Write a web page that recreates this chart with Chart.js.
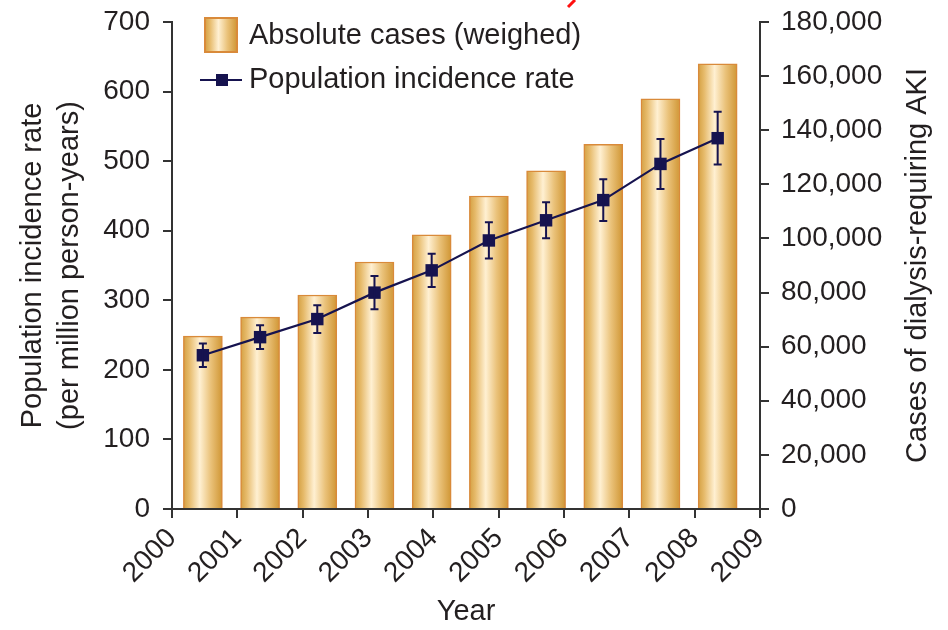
<!DOCTYPE html>
<html lang="en">
<head>
<meta charset="utf-8">
<title>Dialysis-requiring AKI</title>
<script src="https://cdn.jsdelivr.net/npm/chart.js@4.4.1/dist/chart.umd.min.js"></script>
<style>
  html, body { margin: 0; padding: 0; background: #fff; }
  #wrap { width: 948px; height: 630px; position: relative; }
</style>
</head>
<body>
<div id="wrap"><canvas id="chart"></canvas></div>
<script>
  // data
  const years = [2000, 2001, 2002, 2003, 2004, 2005, 2006, 2007, 2008, 2009];
  const cases = [63900, 70900, 79100, 91300, 101300, 115700, 125000, 134800, 151600, 164500];
  const rate = [221, 247, 273, 311, 343, 386, 415, 444, 496, 533];
  const rateErr = [17, 17, 20, 24, 24, 26, 26, 30, 36, 38];

  const ink = '#231f20';
  const navy = '#16134f';
  const barEdge = '#d98a3a';
  const fontFamily = '"Liberation Sans", Arial, Helvetica, sans-serif';

  Chart.defaults.font.family = fontFamily;
  Chart.defaults.font.size = 28;
  Chart.defaults.color = ink;

  // cylinder-like fill of the bars
  function goldGradient(ctx, x0, x1) {
    const g = ctx.createLinearGradient(x0, 0, x1, 0);
    g.addColorStop(0, '#d4a042');
    g.addColorStop(0.15, '#e6ba6a');
    g.addColorStop(0.42, '#fff0d2');
    g.addColorStop(0.7, '#eac27a');
    g.addColorStop(1, '#d09634');
    return g;
  }

  // give every bar its own gradient once the elements know where they are
  const barShading = {
    id: 'barShading',
    beforeDatasetsDraw(chart) {
      const meta = chart.getDatasetMeta(0);
      meta.data.forEach((bar) => {
        const half = bar.width / 2;
        if (!isFinite(bar.x) || !isFinite(half)) return;
        bar.options = Object.assign({}, bar.options, {
          backgroundColor: goldGradient(chart.ctx, bar.x - half, bar.x + half)
        });
      });
    }
  };

  // error bars on the incidence rate
  const errorBars = {
    id: 'errorBars',
    afterDatasetsDraw(chart) {
      const meta = chart.getDatasetMeta(1);
      const y = chart.scales.yl;
      const ctx = chart.ctx;
      ctx.save();
      ctx.strokeStyle = navy;
      ctx.lineWidth = 2;
      meta.data.forEach((pt, i) => {
        const top = y.getPixelForValue(rate[i] + rateErr[i]);
        const bot = y.getPixelForValue(rate[i] - rateErr[i]);
        ctx.beginPath();
        ctx.moveTo(pt.x, top); ctx.lineTo(pt.x, bot);
        ctx.moveTo(pt.x - 4, top); ctx.lineTo(pt.x + 4, top);
        ctx.moveTo(pt.x - 4, bot); ctx.lineTo(pt.x + 4, bot);
        ctx.stroke();
      });
      ctx.restore();
    }
  };

  // legend, right axis title and the stray red mark at the top
  const extras = {
    id: 'extras',
    afterDraw(chart) {
      const ctx = chart.ctx;
      const area = chart.chartArea;
      ctx.save();
      ctx.font = '29px ' + fontFamily;
      ctx.textBaseline = 'middle';

      // legend: bar swatch
      ctx.fillStyle = goldGradient(ctx, 205, 237);
      ctx.fillRect(205, 18, 32, 34);
      ctx.strokeStyle = barEdge;
      ctx.lineWidth = 2;
      ctx.strokeRect(205, 18, 32, 34);
      ctx.fillStyle = ink;
      ctx.fillText('Absolute cases (weighed)', 249, 36);

      // legend: line swatch
      ctx.strokeStyle = navy;
      ctx.lineWidth = 2;
      ctx.beginPath();
      ctx.moveTo(200, 80); ctx.lineTo(242, 80);
      ctx.stroke();
      ctx.fillStyle = navy;
      ctx.fillRect(216, 74, 12, 12);
      ctx.fillStyle = ink;
      ctx.fillText('Population incidence rate', 249, 80);

      // right axis title, reading bottom to top
      ctx.translate(918, (area.top + area.bottom) / 2);
      ctx.rotate(-Math.PI / 2);
      ctx.textAlign = 'center';
      ctx.fillText('Cases of dialysis-requiring AKI', 0, 0);
      ctx.restore();

      ctx.save();
      ctx.strokeStyle = '#ff1010';
      ctx.lineWidth = 3;
      ctx.beginPath();
      ctx.moveTo(575, 0); ctx.lineTo(568, 7);
      ctx.stroke();
      ctx.restore();
    }
  };

  new Chart(document.getElementById('chart'), {
    type: 'bar',
    data: {
      datasets: [
        {
          type: 'bar',
          label: 'Absolute cases (weighed)',
          data: years.map((yr, i) => ({ x: yr, y: cases[i] })),
          xAxisID: 'xb',
          yAxisID: 'yr',
          order: 2,
          barThickness: 39,
          borderWidth: 1.5,
          borderColor: barEdge,
          backgroundColor: '#e6b45c'
        },
        {
          type: 'line',
          label: 'Population incidence rate',
          data: years.map((yr, i) => ({ x: yr, y: rate[i] })),
          xAxisID: 'xb',
          yAxisID: 'yl',
          order: 1,
          borderColor: navy,
          borderWidth: 2.2,
          pointStyle: 'rect',
          pointRadius: 8.8,
          pointBackgroundColor: navy,
          pointBorderColor: navy,
          pointBorderWidth: 0,
          tension: 0
        }
      ]
    },
    options: {
      responsive: true,
      maintainAspectRatio: false,
      animation: false,
      layout: { padding: { top: 22, left: 0, right: 0, bottom: 0 } },
      plugins: {
        legend: { display: false },
        tooltip: { enabled: false }
      },
      scales: {
        x: {
          type: 'linear',
          position: 'bottom',
          min: 2000,
          max: 2009,
          offset: false,
          afterFit(s) { s.height = 121; },
          border: { display: true, color: '#333', width: 2 },
          grid: { display: true, offset: false, drawOnChartArea: false, drawTicks: true, tickLength: 9, color: '#333', lineWidth: 2 },
          ticks: {
            stepSize: 1,
            autoSkip: false,
            maxRotation: 45,
            minRotation: 45,
            padding: 4,
            color: ink,
            callback: (v) => String(v)
          },
          title: { display: true, text: 'Year', color: ink, font: { size: 29, lineHeight: 1.2 }, padding: { top: 0, bottom: 1 } }
        },
        xb: {
          type: 'linear',
          display: false,
          offset: false,
          min: 1999.46,
          max: 2009.74
        },
        yl: {
          type: 'linear',
          position: 'left',
          min: 0,
          max: 700,
          afterFit(s) { s.width = 172; },
          border: { display: true, color: '#333', width: 2 },
          grid: { display: true, drawOnChartArea: false, drawTicks: true, tickLength: 9, color: '#333', lineWidth: 2 },
          ticks: { stepSize: 100, padding: 13, color: ink, font: { lineHeight: 0.6 } },
          title: {
            display: true,
            text: ['Population incidence rate', '(per million person-years)'],
            color: ink,
            font: { size: 29, lineHeight: 1.27 },
            padding: { top: 15, bottom: 0 }
          }
        },
        yr: {
          type: 'linear',
          position: 'right',
          min: 0,
          max: 180000,
          afterFit(s) { s.width = 188; },
          border: { display: true, color: '#333', width: 2 },
          grid: { display: true, drawOnChartArea: false, drawTicks: true, tickLength: 9, color: '#333', lineWidth: 2 },
          ticks: { stepSize: 20000, padding: 12, color: ink, font: { lineHeight: 0.6 }, callback: (v) => v.toLocaleString('en-US') }
        }
      }
    },
    plugins: [barShading, errorBars, extras]
  });
</script>
</body>
</html>
